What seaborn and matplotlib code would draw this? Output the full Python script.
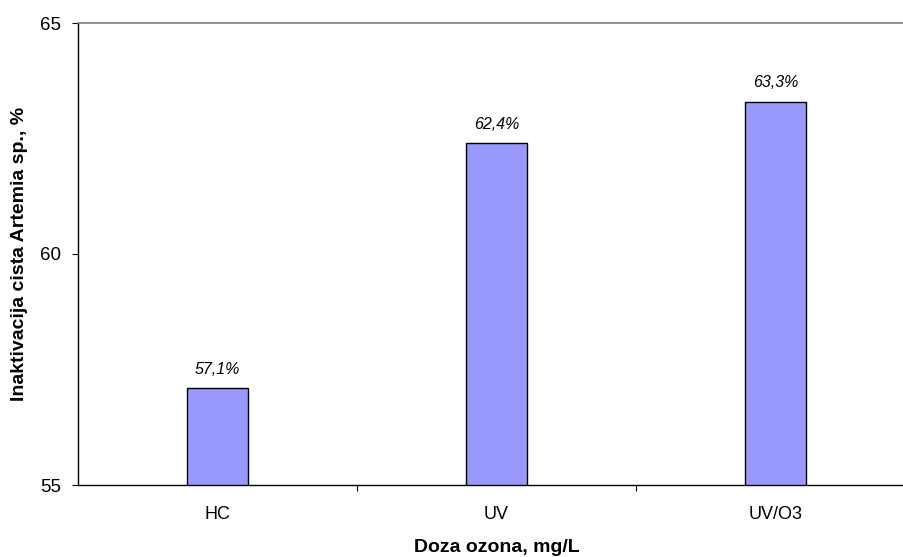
import matplotlib
matplotlib.use("Agg")
import matplotlib.pyplot as plt
import seaborn as sns
import pandas as pd

categories = ["HC", "UV", "UV/O3"]
values = [57.1, 62.4, 63.3]
labels = ["57,1%", "62,4%", "63,3%"]
yticks = [55, 60, 65]

sns.set_theme(style="white")
plt.rcParams['font.family'] = ['Liberation Sans', 'DejaVu Sans']

fig = plt.figure(figsize=(9.04, 5.57), dpi=100)
ax = fig.add_axes([78/904, (557-485)/557, (915-78)/904, (485-23)/557])

df = pd.DataFrame({"cat": categories, "val": values})
sns.barplot(data=df, x="cat", y="val", color="#9999FF", edgecolor="black",
            linewidth=1.0, width=0.22, saturation=1, ax=ax)

ax.set_ylim(55, 65)
ax.set_xlim(-0.5, 2.5)
ax.set_yticks(yticks)
ax.set_yticklabels([str(t) for t in yticks], fontsize=13.5, color="black")
ax.tick_params(axis="y", length=4.5, width=0.8, color="black", pad=7.5, direction="out", left=True)
ax.tick_params(axis="x", which="major", length=0, pad=15, labelsize=13, labelcolor="black")
ax.set_xticks([0.5, 1.5], minor=True)
ax.tick_params(axis="x", which="minor", length=4.5, width=0.8, color="black", direction="out", bottom=True)

for sp in ["left", "bottom"]:
    ax.spines[sp].set_color("black")
    ax.spines[sp].set_linewidth(1.0)
ax.spines["right"].set_visible(False)
ax.spines["top"].set_color("#808080")
ax.spines["top"].set_linewidth(1.2)

for i, (v, lab) in enumerate(zip(values, labels)):
    ax.annotate(lab, xy=(i, v), xytext=(0, 8), textcoords="offset points",
                ha="center", va="bottom", fontsize=11.5, style="italic", color="black")

ax.set_xlabel("Doza ozona, mg/L", fontsize=14, fontweight="bold", color="black", labelpad=11.5)
ax.set_ylabel("Inaktivacija cista Artemia sp., %", fontsize=14, fontweight="bold", color="black", labelpad=9)

fig.savefig("out.png", dpi=100)
